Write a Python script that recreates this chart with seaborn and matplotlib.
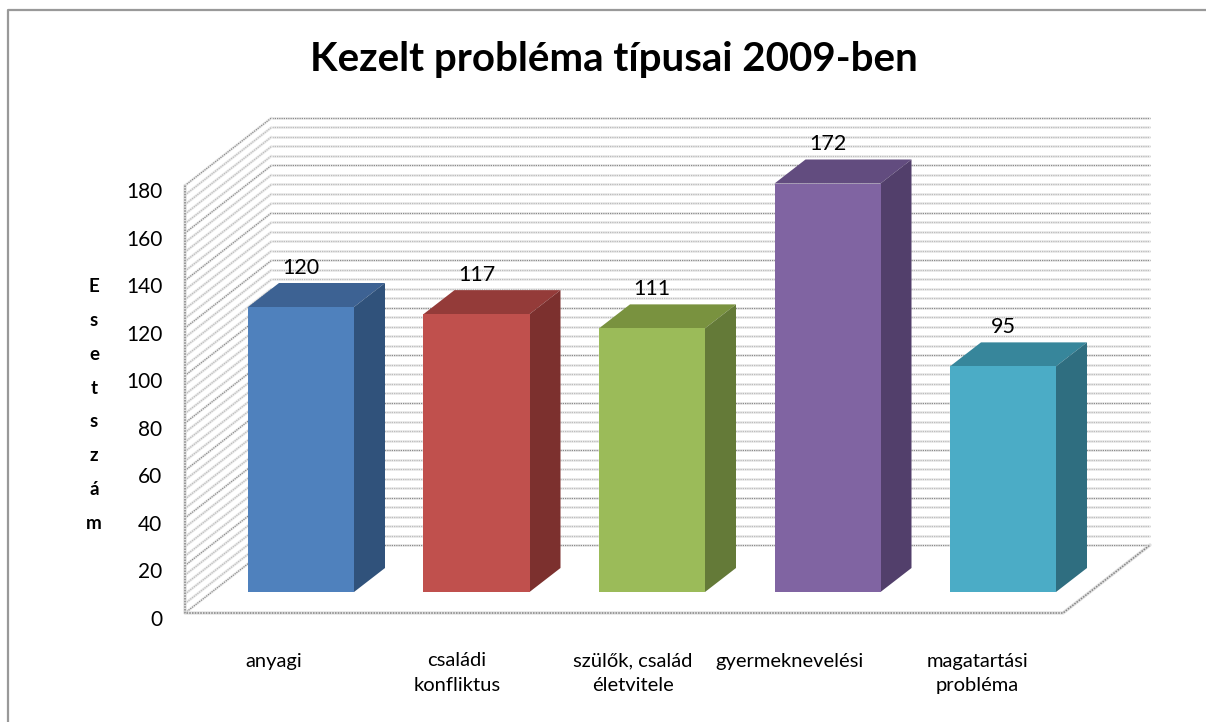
import matplotlib
matplotlib.use("Agg")
import matplotlib.pyplot as plt
from matplotlib.lines import Line2D
from matplotlib.patches import Polygon
import numpy as np
import pandas as pd
import seaborn as sns

categories = ["anyagi", "családi\nkonfliktus", "szülők, család\néletvitele",
              "gyermeknevelési", "magatartási\nprobléma"]
values = [120, 117, 111, 172, 95]
bar_labels = ["120", "117", "111", "172", "95"]
front_colors = ["#4F81BD", "#C0504D", "#9BBB59", "#8064A2", "#4BACC6"]
top_colors = ["#3D6293", "#943B39", "#79923F", "#624C7F", "#37869B"]
side_colors = ["#30527B", "#7C302E", "#647A38", "#523F6B", "#2F6E80"]
y_ticks = list(range(0, 200, 20))

# pixel layout of the excel style 3d box
W, H = 1206, 722
PX_X = 175.5      # px per category
PX_Y = 2.375      # px per value unit
X0, Y0 = 301, 592 # first bar centre, bar floor
BAR_DX, BAR_DY = 31, 24
WALL_DX, WALL_DY = 87, 68
WALL_LEFT, WALL_FLOOR = 185, 613
WALL_VALUE = 180
AX_L, AX_R, AX_T, AX_B = 165, 1160, 100, 640


def xd(px):
    return (px - X0) / PX_X


def yd(py):
    return (Y0 - py) / PX_Y


sns.set_theme(style="white")
plt.rcParams["font.family"] = ["Lato", "DejaVu Sans"]

fig = plt.figure(figsize=(W / 100, H / 100), dpi=100)
ax = fig.add_axes([AX_L / W, 1 - AX_B / H, (AX_R - AX_L) / W, (AX_B - AX_T) / H])

df = pd.DataFrame({"kategoria": categories, "eset": values})
sns.barplot(data=df, x="kategoria", y="eset", hue="kategoria", palette=front_colors,
            width=106 / PX_X, dodge=False, legend=False, saturation=1, ax=ax, zorder=4,
            edgecolor="none", linewidth=0)

ax.set_xlim(xd(AX_L), xd(AX_R))
ax.set_ylim(yd(AX_B), yd(AX_T))
sns.despine(ax=ax, left=True, bottom=True)
ax.set_xlabel("")
ax.set_ylabel("")

# walls: a pale band under a dotted line gives the rough look of the scan
grid_dots = (0, (1, 0.8))
for v in np.arange(0, WALL_VALUE + 1, 4):
    py = WALL_FLOOR - v * PX_Y
    strong = v % 20 == 0
    col = "#8a8a8a" if strong else "#bcbcbc"
    xs_back = [xd(WALL_LEFT + WALL_DX), xd(WALL_LEFT + WALL_DX + 878)]
    ys_back = [yd(py - WALL_DY)] * 2
    xs_side = [xd(WALL_LEFT), xd(WALL_LEFT + WALL_DX)]
    ys_side = [yd(py), yd(py - WALL_DY)]
    for xs, ys in [(xs_back, ys_back), (xs_side, ys_side)]:
        ax.plot(xs, ys, color="#ececec", lw=2.0, zorder=1, solid_capstyle="butt")
        ax.plot(xs, ys, color=col, lw=0.9, ls=grid_dots, zorder=1)

box_x = [WALL_LEFT, WALL_LEFT, WALL_LEFT + 878, WALL_LEFT + 878 + WALL_DX]
box_y = [WALL_FLOOR - WALL_VALUE * PX_Y, WALL_FLOOR, WALL_FLOOR, WALL_FLOOR - WALL_DY]
ax.plot([xd(p) for p in box_x], [yd(p) for p in box_y], color="#e0e0e0", lw=2.4, zorder=2)
ax.plot([xd(p) for p in box_x], [yd(p) for p in box_y], color="#858585", lw=1.1,
        ls=grid_dots, zorder=2)

# top and side faces built from the bars seaborn drew
dx, dy = BAR_DX / PX_X, BAR_DY / PX_Y
for i, bar in enumerate(ax.patches):
    x0, x1 = bar.get_x(), bar.get_x() + bar.get_width()
    top = bar.get_height()
    ax.add_patch(Polygon([(x0, top), (x1, top), (x1 + dx, top + dy), (x0 + dx, top + dy)],
                         fc=top_colors[i], ec="none", zorder=3))
    ax.add_patch(Polygon([(x1, 0), (x1 + dx, dy), (x1 + dx, top + dy), (x1, top)],
                         fc=side_colors[i], ec="none", zorder=3))

for container, text in zip(ax.containers, bar_labels):
    ax.bar_label(container, labels=[text], padding=21, fontsize=15.5, color="black", zorder=6)

# tick labels sit on the front of the left wall, slightly under the grid lines
ax.set_yticks([yd(618 - v * 2.378) for v in y_ticks])
ax.set_yticklabels([str(v) for v in y_ticks], fontsize=15, color="black")
ax.set_xticks([xd(p) for p in [274, 457, 633, 789, 977]])
ax.set_xticklabels(categories, fontsize=14.5, color="black", linespacing=1.55, va="top")
ax.tick_params(axis="both", length=0)
ax.tick_params(axis="y", pad=2)
ax.tick_params(axis="x", pad=9)

ax.text(xd(94), yd(405), "E\ns\ne\nt\ns\nz\ná\nm", fontsize=13.5, fontweight="bold",
        ha="center", va="center", linespacing=2.2, color="black", clip_on=False)

fig.text(614 / W, 1 - 60 / H, "Kezelt probléma típusai 2009-ben", fontsize=29, fontweight="bold",
         ha="center", va="center", color="black")

# chart frame, only the top and left edges are visible in the crop
fig.add_artist(Line2D([8 / W, 8 / W, 1], [0, 1 - 10 / H, 1 - 10 / H], color="#999999", lw=1.6))

fig.savefig("out.png", dpi=100)
